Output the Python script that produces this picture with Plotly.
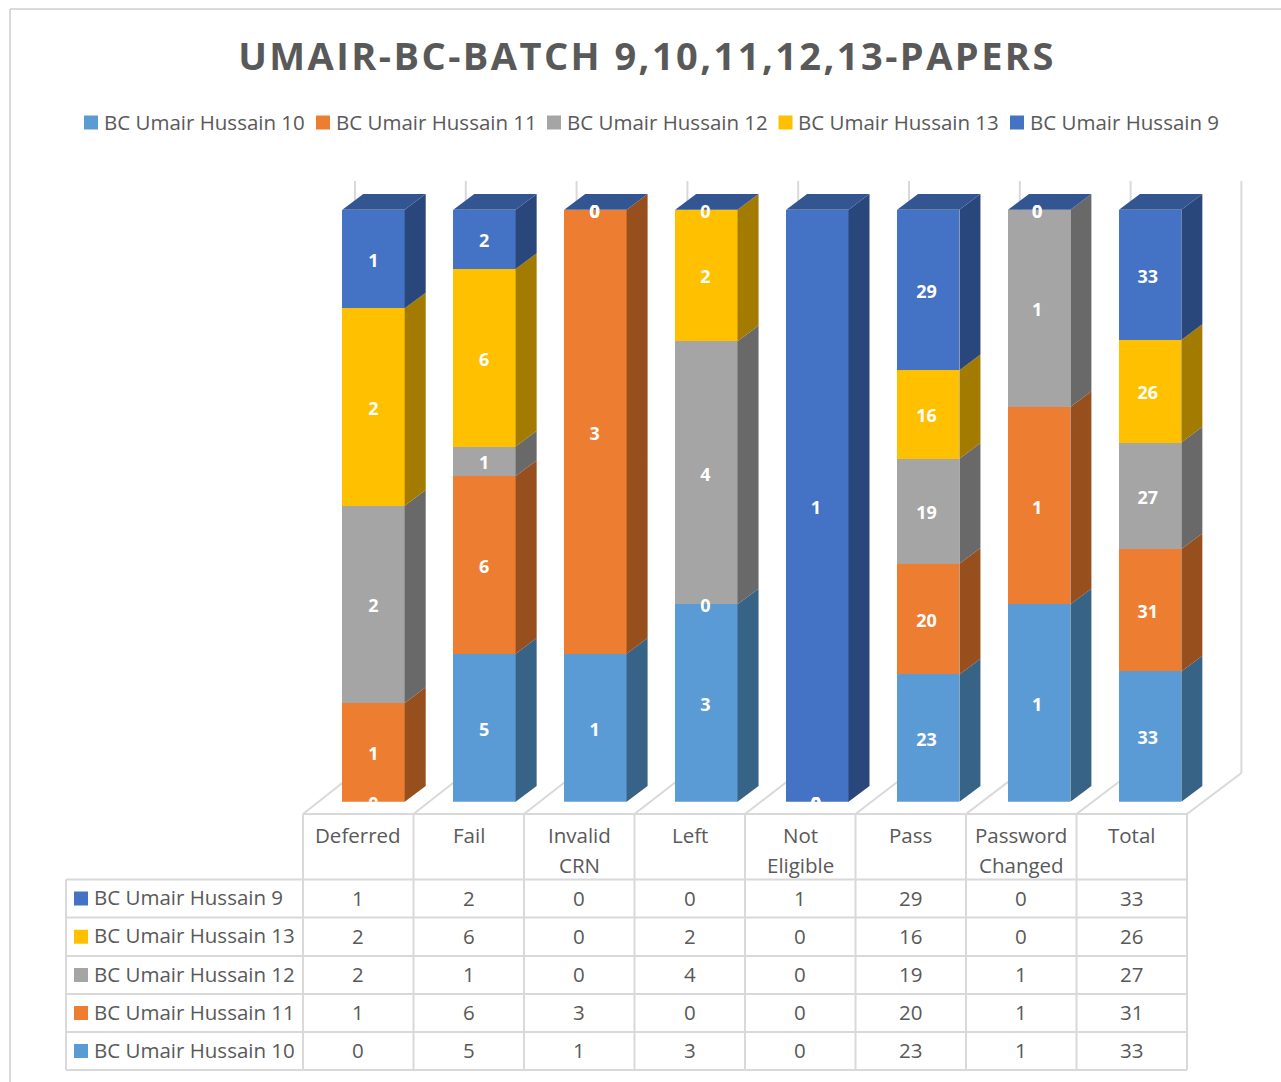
import numpy as np
import plotly.graph_objects as go

title = "UMAIR-BC-BATCH 9,10,11,12,13-PAPERS"
categories = ["Deferred", "Fail", "Invalid CRN", "Left", "Not Eligible", "Pass", "Password Changed", "Total"]
header_lines = [["Deferred"], ["Fail"], ["Invalid", "CRN"], ["Left"], ["Not", "Eligible"], ["Pass"], ["Password", "Changed"], ["Total"]]

s10 = [0, 5, 1, 3, 0, 23, 1, 33]
s11 = [1, 6, 3, 0, 0, 20, 1, 31]
s12 = [2, 1, 0, 4, 0, 19, 1, 27]
s13 = [2, 6, 0, 2, 0, 16, 0, 26]
s9 = [1, 2, 0, 0, 1, 29, 0, 33]

stack_names = ["BC Umair Hussain 10", "BC Umair Hussain 11", "BC Umair Hussain 12", "BC Umair Hussain 13", "BC Umair Hussain 9"]
stack_values = [s10, s11, s12, s13, s9]
front_colors = ["#5B9BD5", "#ED7D31", "#A5A5A5", "#FFC000", "#4472C4"]
side_colors = ["#376387", "#974F1D", "#696969", "#A37B00", "#2A477C"]
top_color = "#335693"

W, H = 1281, 1082
FONT = "Open Sans"
TXT = "#595959"
GRID = "#D9D9D9"
TEXT_SIZE = 20.5

# pixel layout of the plot
X0, STEP = 373.5, 110.95
BAR_PX = 62.4
DX_PX, DY_PX = 21, 15.7
Y_BOTTOM, Y_TOP = 801.7, 209.7
PX_PER_PCT = (Y_BOTTOM - Y_TOP) / 100
bar_w = BAR_PX / STEP
dx = DX_PX / STEP
dy = DY_PX / PX_PER_PCT
nudge = 3.4 / PX_PER_PCT
label_scale = 110.6 / STEP

x_idx = np.arange(len(categories), dtype=float)
vals = np.array(stack_values, dtype=float)
pct = vals / vals.sum(axis=0) * 100
tops = np.cumsum(pct, axis=0)
bottoms = tops - pct

fig = go.Figure()

for k, name in enumerate(stack_names):
    fig.add_trace(go.Bar(x=x_idx, y=stack_values[k], name=name, width=bar_w,
                         marker=dict(color=front_colors[k], line=dict(width=0)),
                         customdata=categories, showlegend=False,
                         hovertemplate="%{customdata}<br>" + name + ": %{y}<extra></extra>"))

# 3D side faces derived from the stacked data
for k, name in enumerate(stack_names):
    xs, ys = [], []
    for i in range(len(categories)):
        if pct[k, i] <= 0:
            continue
        r = x_idx[i] + bar_w / 2
        b, t = bottoms[k, i], tops[k, i]
        xs += [r, r, r + dx, r + dx, r, None]
        ys += [b, t, t + dy, b + dy, b, None]
    fig.add_trace(go.Scatter(x=xs, y=ys, mode="none", fill="toself", fillcolor=side_colors[k],
                             showlegend=False, hoverinfo="skip"))

# top faces
xs, ys = [], []
for i in range(len(categories)):
    l, r = x_idx[i] - bar_w / 2, x_idx[i] + bar_w / 2
    xs += [l, r, r + dx, l + dx, l, None]
    ys += [100, 100, 100 + dy, 100 + dy, 100, None]
fig.add_trace(go.Scatter(x=xs, y=ys, mode="none", fill="toself", fillcolor=top_color,
                         showlegend=False, hoverinfo="skip"))

# data labels
for k, name in enumerate(stack_names):
    fig.add_trace(go.Scatter(x=x_idx * label_scale, y=(bottoms[k] + tops[k]) / 2 - nudge, mode="text",
                             text=[str(v) for v in stack_values[k]], textposition="middle center",
                             textfont=dict(family=FONT, size=18, color="white", weight="bold"),
                             cliponaxis=True, showlegend=False, hoverinfo="skip"))


def px(x):
    return x / W


def py(y):
    return 1 - y / H


shapes, annotations = [], []


def line(x1, y1, x2, y2, w=2, layer="below"):
    shapes.append(dict(type="line", xref="paper", yref="paper", x0=px(x1), y0=py(y1), x1=px(x2), y1=py(y2),
                       line=dict(color=GRID, width=w), layer=layer))


def swatch(x, y, size, color):
    shapes.append(dict(type="rect", xref="paper", yref="paper", x0=px(x), x1=px(x + size),
                       y0=py(y), y1=py(y + size), fillcolor=color, line=dict(width=0), layer="above"))


def label(x, y, text, size=TEXT_SIZE, anchor="center", color=TXT, bold=False):
    annotations.append(dict(xref="paper", yref="paper", x=px(x), y=py(y), text=text, showarrow=False,
                            xanchor=anchor, yanchor="middle", borderpad=0,
                            font=dict(family=FONT, size=size, color=color, weight="bold" if bold else "normal")))


# chart frame
line(10, 9, W, 9)
line(10, 9, 10, H)

# title
label(646.5, 54.5, title, size=38, bold=True)

# legend row
legend_x = [84, 316, 547, 778.5, 1010]
for k, name in enumerate(stack_names):
    swatch(legend_x[k], 115.5, 14, front_colors[k])
    label(legend_x[k] + 18.5, 122, name, anchor="left")

# table + floor + back wall grid
col_edges = [303 + 110.5 * i for i in range(len(categories) + 1)]
back_x = [355 + 110.8 * i for i in range(len(categories) + 1)]
row_edges = [879.5, 917.5, 956, 994, 1032, 1070]
line(303, 814, col_edges[-1], 814)
for e, b in zip(col_edges, back_x):
    line(e, 814, e, 1070)
    line(e, 814, b, 773)
    line(b, 181, b, 773)
for r in row_edges:
    line(66, r, col_edges[-1], r)
line(66, 879.5, 66, 1070)

for i, lines in enumerate(header_lines):
    cx = (col_edges[i] + col_edges[i + 1]) / 2
    for j, t in enumerate(lines):
        label(cx, 835 + 30 * j, t)

row_order = [4, 3, 2, 1, 0]
for r, k in enumerate(row_order):
    cy = (row_edges[r] + row_edges[r + 1]) / 2
    swatch(74, cy - 7, 14, front_colors[k])
    label(93, cy - 1.5, stack_names[k], anchor="left")
    for i in range(len(categories)):
        label((col_edges[i] + col_edges[i + 1]) / 2, cy - 1, str(stack_values[k][i]))

fig.update_layout(
    width=W, height=H, margin=dict(l=0, r=0, t=0, b=0, pad=0),
    paper_bgcolor="white", plot_bgcolor="rgba(0,0,0,0)",
    barmode="stack", barnorm="percent", showlegend=False,
    xaxis=dict(range=[-X0 / STEP, (W - X0) / STEP], visible=False, fixedrange=True),
    yaxis=dict(domain=[(H - Y_BOTTOM) / H, 1], range=[0, Y_BOTTOM / PX_PER_PCT], visible=False, fixedrange=True),
    shapes=shapes, annotations=annotations,
)

spacing_js = """
document.body.style.margin='0';document.body.style.overflow='hidden';
document.querySelectorAll('.annotation-text').forEach(function(t){
  if (t.textContent.indexOf('PAPERS') >= 0) { t.style.letterSpacing = '2.45px'; }
});
"""
fig.write_html("out.html", config={"displayModeBar": False}, post_script=spacing_js)
